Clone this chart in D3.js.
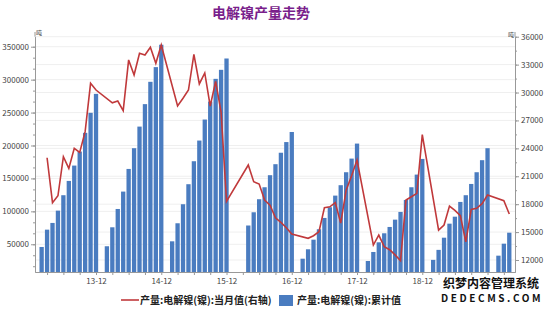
<html>
<head>
<meta charset="utf-8">
<script src="https://d3js.org/d3.v7.min.js"></script>
<style>
  body { margin: 0; background: #fff; }
  svg text { font-family: "Noto Sans CJK SC", sans-serif; }
</style>
</head>
<body>
<svg width="550" height="310"></svg>
<script>
// 产量:电解镍(镍):累计值 (bars, left axis, 吨)
var barMonths = [
  "2013-02","2013-03","2013-04","2013-05","2013-06","2013-07","2013-08","2013-09","2013-10","2013-11","2013-12",
  "2014-02","2014-03","2014-04","2014-05","2014-06","2014-07","2014-08","2014-09","2014-10","2014-11","2014-12",
  "2015-02","2015-03","2015-04","2015-05","2015-06","2015-07","2015-08","2015-09","2015-10","2015-11","2015-12",
  "2016-04","2016-05","2016-06","2016-07","2016-08","2016-09","2016-10","2016-11","2016-12",
  "2017-02","2017-03","2017-04","2017-05","2017-06","2017-07","2017-08","2017-09","2017-10","2017-11","2017-12",
  "2018-02","2018-03","2018-04","2018-05","2018-06","2018-07","2018-08","2018-09","2018-10","2018-11","2018-12",
  "2019-02","2019-03","2019-04","2019-05","2019-06","2019-07","2019-08","2019-09","2019-10","2019-11","2019-12",
  "2020-02","2020-03","2020-04"
];
var cumValues = [
  45900, 72200, 82400, 101100, 124500, 146200, 169500, 190800, 219200, 249600, 278400,
  47000, 75800, 103600, 130000, 164400, 195900, 228700, 262800, 296700, 319000, 353000,
  54500, 81900, 110800, 141200, 176100, 207500, 239400, 266700, 301200, 314900, 332100,
  78500, 98600, 118400, 136600, 154900, 171600, 189000, 205200, 220500,
  28100, 42400, 57000, 72800, 90000, 106200, 123900, 139700, 159400, 180100, 202900,
  24600, 38300, 53000, 66700, 76300, 87400, 99100, 117300, 136600, 155800, 179600,
  26300, 41500, 60000, 81300, 91900, 114300, 124500, 141600, 159400, 177700, 195900,
  32700, 50900, 67600
];

// 产量:电解镍(镍):当月值 (line, right axis, 吨)
var lineMonths = [
  "2013-03","2013-04","2013-05","2013-06","2013-07","2013-08","2013-09","2013-10","2013-11","2013-12",
  "2014-03","2014-04","2014-05","2014-06","2014-07","2014-08","2014-09","2014-10","2014-11","2014-12",
  "2015-03","2015-04","2015-05","2015-06","2015-07","2015-08","2015-09","2015-10","2015-11","2015-12",
  "2016-04","2016-05","2016-06","2016-07","2016-08","2016-09","2016-10","2016-11","2016-12",
  "2017-03","2017-04","2017-05","2017-06","2017-07","2017-08","2017-09","2017-10","2017-11","2017-12",
  "2018-03","2018-04","2018-05","2018-06","2018-07","2018-08","2018-09","2018-10","2018-11","2018-12",
  "2019-03","2019-04","2019-05","2019-06","2019-07","2019-08","2019-09","2019-10","2019-11","2019-12",
  "2020-03","2020-04"
];
var monthValues = [
  22990, 18150, 18900, 23100, 21850, 24000, 23570, 25790, 30990, 30270,
  28900, 29090, 28050, 33500, 31880, 34220, 34030, 34860, 33140, 35110,
  28550, 29380, 30270, 34110, 30920, 32100, 28550, 31200, 27900, 18300,
  22210, 20410, 20170, 18450, 17900, 16540, 16050, 15470, 14790,
  14330, 14610, 15040, 17620, 17720, 18160, 15960, 19500, 21050, 22750,
  13610, 14680, 13430, 13100, 12550, 11920, 18450, 18800, 19160, 25480,
  15220, 15760, 17800, 17330, 16760, 13960, 17440, 17550, 18050, 18980,
  18370, 16940
];

var leftTicks = [50000, 100000, 150000, 200000, 250000, 300000, 350000];
var rightTicks = [12000, 15000, 18000, 21000, 24000, 27000, 30000, 33000, 36000];
var xTickLabels = ["13-12", "14-12", "15-12", "16-12", "17-12", "18-12"];

var svg = d3.select("svg");

var plotLeft = 35, plotRight = 515, plotTop = 36.7, plotBottom = 272;

// month index, Jan 2013 = 0
function idx(m) {
  var p = m.split("-");
  return (+p[0] - 2013) * 12 + (+p[1] - 1);
}

var x = d3.scaleLinear().domain([-0.22, 88.05]).range([plotLeft, plotRight]);
var yL = d3.scaleLinear().domain([7900, 365200]).range([plotBottom, plotTop]);
var yR = d3.scaleLinear().domain([10710, 36000]).range([plotBottom, plotTop]);

// title
svg.append("text")
  .attr("x", 261).attr("y", 18)
  .attr("text-anchor", "middle")
  .attr("font-size", 14).attr("font-weight", "bold")
  .attr("fill", "#7a1f8c")
  .text("电解镍产量走势");

// faint grid lines for both axes
var grid = svg.append("g");
grid.selectAll("line.gl").data(leftTicks).join("line")
  .attr("x1", plotLeft).attr("x2", plotRight)
  .attr("y1", function(d) { return yL(d); }).attr("y2", function(d) { return yL(d); })
  .attr("stroke", "#efefef");
grid.selectAll("line.gr").data(rightTicks).join("line")
  .attr("x1", plotLeft).attr("x2", plotRight)
  .attr("y1", function(d) { return yR(d); }).attr("y2", function(d) { return yR(d); })
  .attr("stroke", "#efefef");

// bars
svg.append("g").selectAll("rect")
  .data(d3.zip(barMonths, cumValues))
  .join("rect")
  .attr("x", function(d) { return x(idx(d[0])) - 2.15; })
  .attr("width", 4.3)
  .attr("y", function(d) { return yL(d[1]); })
  .attr("height", function(d) { return plotBottom - yL(d[1]); })
  .attr("fill", "#4a7cc0");

// monthly line
var line = d3.line()
  .x(function(d) { return x(idx(d[0])); })
  .y(function(d) { return yR(d[1]); });

svg.append("path")
  .datum(d3.zip(lineMonths, monthValues))
  .attr("d", line)
  .attr("fill", "none")
  .attr("stroke", "#c0393b")
  .attr("stroke-width", 1.6);

// axes
function styleAxis(g) {
  g.selectAll("path, line").attr("stroke", "#999");
  g.selectAll("text").attr("fill", "#444").attr("font-size", 8);
}

var minorL = d3.range(1, 22).map(function(v) { return v * 50000 / 3; })
  .filter(function(v) { return v > 7900 && v < 365200; });
var minorR = d3.range(8, 25).map(function(v) { return v * 1500; })
  .filter(function(v) { return v > 10710 && v <= 36000; });

svg.append("g").attr("transform", "translate(" + plotLeft + ",0)")
  .call(d3.axisLeft(yL).tickValues(minorL).tickSize(2).tickSizeOuter(0).tickFormat(""))
  .call(styleAxis);
svg.append("g").attr("transform", "translate(" + plotLeft + ",0)")
  .call(d3.axisLeft(yL).tickValues(leftTicks).tickSize(4).tickSizeOuter(0).tickPadding(2).tickFormat(d3.format("d")))
  .call(styleAxis);

svg.append("g").attr("transform", "translate(" + plotRight + ",0)")
  .call(d3.axisRight(yR).tickValues(minorR).tickSize(2).tickSizeOuter(0).tickFormat(""))
  .call(styleAxis);
svg.append("g").attr("transform", "translate(" + plotRight + ",0)")
  .call(d3.axisRight(yR).tickValues(rightTicks).tickSize(4).tickSizeOuter(0).tickPadding(2).tickFormat(d3.format("d")))
  .call(styleAxis);

// axis tops reach the unit labels
svg.append("line").attr("x1", plotLeft).attr("x2", plotLeft).attr("y1", 32).attr("y2", plotTop).attr("stroke", "#999");
svg.append("line").attr("x1", plotRight).attr("x2", plotRight).attr("y1", 32).attr("y2", plotTop).attr("stroke", "#999");

svg.append("text").attr("x", plotLeft + 1).attr("y", 35)
  .attr("font-size", 6).attr("fill", "#444").text("吨");
svg.append("text").attr("x", plotRight - 1).attr("y", 37).attr("text-anchor", "end")
  .attr("font-size", 6).attr("fill", "#444").text("吨");

// x axis: a tick every quarter, labels on Decembers
var quarterTicks = d3.range(2, 88, 3);
svg.append("g").attr("transform", "translate(0," + plotBottom + ")")
  .call(d3.axisBottom(x).tickValues(quarterTicks).tickSize(3).tickSizeOuter(0).tickPadding(3)
    .tickFormat(function(i) {
      var lab = (13 + Math.floor(i / 12)) + "-12";
      return (i % 12 == 11 && xTickLabels.indexOf(lab) >= 0) ? lab : "";
    }))
  .call(styleAxis);

// legend
var lg = svg.append("g");
lg.append("line").attr("x1", 121).attr("x2", 139).attr("y1", 300).attr("y2", 300)
  .attr("stroke", "#c0393b").attr("stroke-width", 1.6);
lg.append("text").attr("x", 140).attr("y", 304)
  .attr("font-size", 10).attr("font-weight", "bold").attr("fill", "#222")
  .text("产量:电解镍(镍):当月值(右轴)");
lg.append("rect").attr("x", 279).attr("y", 295).attr("width", 14).attr("height", 11)
  .attr("fill", "#4a7cc0");
lg.append("text").attr("x", 297).attr("y", 304)
  .attr("font-size", 10).attr("font-weight", "bold").attr("fill", "#222")
  .text("产量:电解镍(镍):累计值");

// site watermark
var wm = svg.append("g").attr("font-weight", "bold").attr("fill", "#111")
  .attr("stroke", "#fff").attr("stroke-width", 2).attr("paint-order", "stroke");
wm.append("text").attr("x", 443).attr("y", 288).attr("font-size", 12).text("织梦内容管理系统");
wm.append("text").attr("x", 441).attr("y", 302).attr("font-size", 10)
  .attr("letter-spacing", 2.6).attr("font-family", "DejaVu Sans").text("DEDECMS.COM");
</script>
</body>
</html>
